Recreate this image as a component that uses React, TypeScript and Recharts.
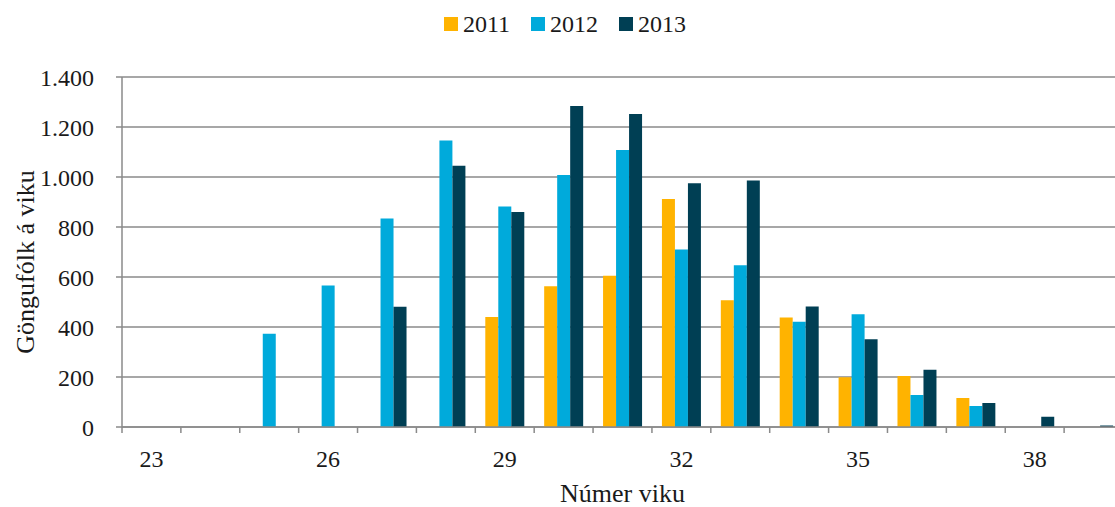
import React from "react";
import { BarChart, Bar, XAxis, YAxis, CartesianGrid, Legend } from "recharts";

// week numbers on the x axis
const weeks = [23, 24, 25, 26, 27, 28, 29, 30, 31, 32, 33, 34, 35, 36, 37, 38, 39];
const labelledWeeks = [23, 26, 29, 32, 35, 38];

// walkers per week
const walkers2011 = [0, 0, 0, 0, 0, 0, 440, 563, 605, 912, 507, 438, 199, 204, 116, 0, 0];
const walkers2012 = [0, 0, 373, 566, 834, 1146, 882, 1008, 1108, 710, 647, 421, 451, 128, 84, 0, 0];
const walkers2013 = [0, 0, 0, 0, 481, 1045, 860, 1284, 1252, 975, 986, 482, 351, 229, 96, 41, 6];

const yTicks = [0, 200, 400, 600, 800, 1000, 1200, 1400];

const seriesNames = ["2011", "2012", "2013"];
const seriesColors = ["#FFB300", "#00AADB", "#003F54"];

const data = weeks.map((w, i) => ({
  week: w,
  "2011": walkers2011[i],
  "2012": walkers2012[i],
  "2013": walkers2013[i],
}));

const W = 1130;
const H = 507;
const MARGIN = { top: 77, right: 7, bottom: 0, left: 0 };
const Y_AXIS_W = 122;
const X_AXIS_H = 80;
const TICK_SIZE = 6;
const X_TICK_GAP = 17;
const BAND = (W - MARGIN.left - MARGIN.right - Y_AXIS_W) / weeks.length;
const PLOT_H = H - MARGIN.top - MARGIN.bottom - X_AXIS_H;

const FONT = "Liberation Serif, DejaVu Serif, serif";
const TEXT = "#1a1a1a";
const AXIS = "#8a8a8a";

const formatThousands = (v: number) => String(v).replace(/\B(?=(\d{3})+(?!\d))/g, ".");

// tick marks sit on the category boundaries, labels only every third week
function WeekTick(props: any) {
  const { x, y, payload } = props;
  const axisY = y - TICK_SIZE - X_TICK_GAP;
  const lx = x - BAND / 2;
  return (
    <g>
      <line x1={lx} x2={lx} y1={axisY} y2={axisY + TICK_SIZE} stroke={AXIS} strokeWidth={1.5} />
      {labelledWeeks.includes(payload.value) && (
        <text x={x} y={y} dy="0.71em" textAnchor="middle" fontSize={24} style={{ fontFamily: FONT }} fill={TEXT}>
          {payload.value}
        </text>
      )}
    </g>
  );
}

function LegendContent({ payload }: any) {
  return (
    <div style={{ display: "flex", justifyContent: "center", gap: 21, lineHeight: "24px" }}>
      {(payload || []).map((p: any) => (
        <div key={p.value} style={{ display: "flex", alignItems: "center" }}>
          <span style={{ width: 14, height: 14, background: p.color, marginRight: 5, display: "inline-block" }} />
          <span style={{ fontFamily: FONT, fontSize: 24, color: TEXT }}>{p.value}</span>
        </div>
      ))}
    </div>
  );
}

export default function App() {
  return (
    <div style={{ position: "fixed", left: 0, top: 0, width: 1115, height: H, overflow: "hidden", background: "#fff", fontFamily: FONT }}>
      <BarChart width={W} height={H} data={data} margin={MARGIN} barGap={0} barSize={13}>
        <CartesianGrid vertical={false} stroke={AXIS} strokeWidth={1.5} />
        <XAxis
          dataKey="week"
          height={X_AXIS_H}
          interval={0}
          tickLine={false}
          tickSize={TICK_SIZE}
          tickMargin={X_TICK_GAP}
          axisLine={{ stroke: AXIS, strokeWidth: 1.5 }}
          tick={<WeekTick />}
          label={(p: any) => (
            <text
              x={p.viewBox.x + p.viewBox.width / 2}
              y={p.viewBox.y + 75}
              textAnchor="middle"
              fontSize={26}
              style={{ fontFamily: FONT }}
              fill={TEXT}
            >
              Númer viku
            </text>
          )}
        />
        <YAxis
          width={Y_AXIS_W}
          domain={[0, 1400]}
          ticks={yTicks}
          interval={0}
          tickSize={TICK_SIZE}
          tickMargin={22}
          tickFormatter={formatThousands}
          axisLine={{ stroke: AXIS, strokeWidth: 1.5 }}
          tickLine={{ stroke: AXIS, strokeWidth: 1.5 }}
          tick={{ fontSize: 24, fill: TEXT, style: { fontFamily: FONT } }}
          label={() => {
            const cx = 25;
            const cy = MARGIN.top + PLOT_H / 2 + 10;
            return (
              <text
                x={cx}
                y={cy}
                transform={`rotate(-90, ${cx}, ${cy})`}
                textAnchor="middle"
                dominantBaseline="central"
                fontSize={26}
                style={{ fontFamily: FONT }}
                fill={TEXT}
              >
                Göngufólk á viku
              </text>
            );
          }}
        />
        <Legend
          verticalAlign="middle"
          align="center"
          layout="horizontal"
          wrapperStyle={{ top: 12, left: 0, width: W }}
          content={<LegendContent />}
        />
        {seriesNames.map((name, i) => (
          <Bar key={name} dataKey={name} fill={seriesColors[i]} isAnimationActive={false} />
        ))}
      </BarChart>
    </div>
  );
}
